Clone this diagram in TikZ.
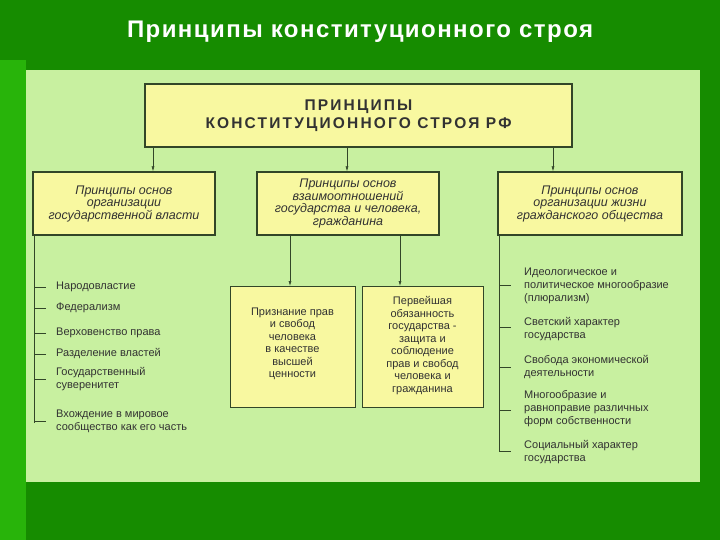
\documentclass[tikz,border=0pt]{standalone}
\usepackage{fontspec}
\setmainfont{Liberation Sans}
\usetikzlibrary{arrows.meta}
\definecolor{bg}{RGB}{22,140,0}
\definecolor{bgl}{RGB}{40,180,10}
\definecolor{panel}{RGB}{200,240,160}
\definecolor{boxf}{RGB}{248,248,160}
\definecolor{txt}{RGB}{50,50,50}
\definecolor{ln}{RGB}{50,70,40}
\begin{document}
\begin{tikzpicture}[x=1pt,y=-1pt,
  bx/.style={draw=ln,fill=boxf,line width=1.2pt,align=center,text=txt,inner sep=0pt},
  it/.style={font=\itshape\fontsize{12.5}{12.5}\selectfont},
  sb/.style={font=\fontsize{11}{12.5}\selectfont},
  li/.style={anchor=west,align=left,text=txt,font=\fontsize{11}{13}\selectfont,inner sep=0pt},
  arr/.style={draw=ln,-{Latex[length=5pt,width=3pt]},line width=0.6pt},
  tk/.style={draw=ln,line width=0.6pt}]
\fill[bg] (0,0) rectangle (720,540);
\fill[bgl] (0,60) rectangle (26,540);
\fill[panel] (26,70) rectangle (700,482);
\node (tt) [text=white,font=\bfseries\fontsize{24}{26}\selectfont] at (360,32) {\addfontfeature{LetterSpace=6}Принципы конституционного строя};
\node (top) [bx,line width=2pt,minimum width=427,minimum height=63,font=\bfseries\fontsize{15.5}{18}\selectfont] at (358.5,115.5) {\addfontfeature{LetterSpace=14}ПРИНЦИПЫ\\\addfontfeature{LetterSpace=14}КОНСТИТУЦИОННОГО СТРОЯ РФ};
\node (b1) [bx,it,minimum width=182,minimum height=63] at (124,203.5) {Принципы основ\\организации\\государственной власти};
\node (b2) [bx,it,minimum width=182,minimum height=63] at (348,203.5) {Принципы основ\\взаимоотношений\\государства и человека,\\гражданина};
\node (b3) [bx,it,minimum width=184,minimum height=63] at (590,203.5) {Принципы основ\\организации жизни\\гражданского общества};
\node (s1) [bx,line width=0.8pt,minimum width=125,minimum height=121,anchor=north] at (292.5,286) {};
\node[sb,align=center,text=txt,anchor=north] at (292.5,304) {Признание прав\\и свобод\\человека\\в качестве\\высшей\\ценности};
\node (s2) [bx,line width=0.8pt,minimum width=121,minimum height=121,anchor=north] at (422.5,286) {};
\node[sb,align=center,text=txt,anchor=north] at (422.5,293) {Первейшая\\обязанность\\государства -\\защита и\\соблюдение\\прав и свобод\\человека и\\гражданина};
\coordinate (a1) at (153,147); \coordinate (a2) at (347,147); \coordinate (a3) at (553,147);
\draw[arr] (a1) -- (a1 |- b1.north);
\draw[arr] (a2) -- (a2 |- b2.north);
\draw[arr] (a3) -- (a3 |- b3.north);
\coordinate (c1) at (290,235); \coordinate (c2) at (400,235);
\draw[arr] (c1) -- (c1 |- s1.north);
\draw[arr] (c2) -- (c2 |- s2.north);
% left list
\coordinate (L0) at (34,235); \coordinate (L1) at (34,423);
\draw[tk] (L0) -- (L1);
\foreach \y/\t in {287/Народовластие,308/Федерализм,333/Верховенство права,354/Разделение властей,379/{Государственный\\суверенитет},421/{Вхождение в мировое\\сообщество как его часть}}{
  \draw[tk] (34,\y) -- (46,\y);
  \node[li] at (56,\y) {\t};
}
% right list
\coordinate (R0) at (499,235); \coordinate (R1) at (499,451);
\draw[tk] (R0) -- (R1);
\foreach \y/\ty/\t in {285/286/{Идеологическое и\\политическое многообразие\\(плюрализм)},327/329/{Светский характер\\государства},367/367/{Свобода экономической\\деятельности},410/409/{Многообразие и\\равноправие различных\\форм собственности},451/452/{Социальный характер\\государства}}{
  \draw[tk] (499,\y) -- (511,\y);
  \node[li] at (524,\ty) {\t};
}
\end{tikzpicture}
\end{document}
